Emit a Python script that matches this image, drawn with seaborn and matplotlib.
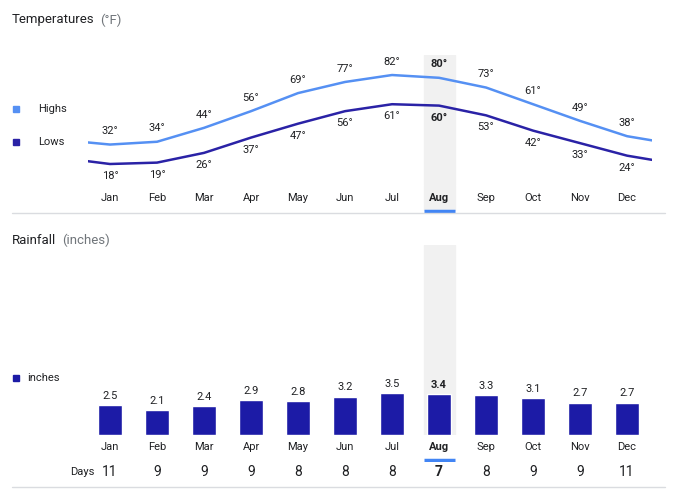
import matplotlib
matplotlib.use("Agg")
import matplotlib.pyplot as plt
import seaborn as sns
import pandas as pd

months = ["Jan", "Feb", "Mar", "Apr", "May", "Jun", "Jul", "Aug", "Sep", "Oct", "Nov", "Dec"]
highs = [32, 34, 44, 56, 69, 77, 82, 80, 73, 61, 49, 38]
lows = [18, 19, 26, 37, 47, 56, 61, 60, 53, 42, 33, 24]
rain = [2.5, 2.1, 2.4, 2.9, 2.8, 3.2, 3.5, 3.4, 3.3, 3.1, 2.7, 2.7]
days = [11, 9, 9, 9, 8, 8, 8, 7, 8, 9, 9, 11]
selected = 7

sns.set_theme(style="white")
plt.rcParams["font.family"] = ["Roboto", "DejaVu Sans"]

W, H = 675, 495
HIGH_C, LOW_C, BAR_C = "#5590f3", "#2a22a6", "#1c1ba6"
BAND_C = "#f1f1f1"
TXT = "#202124"
GREY = "#70757a"

fig = plt.figure(figsize=(W / 100, H / 100), dpi=100)


def fx(x):
    return x / W


def fy(y):
    return 1 - y / H


def axes_px(x0, y0, x1, y1):
    return fig.add_axes([fx(x0), fy(y1), (x1 - x0) / W, (y1 - y0) / H])


XLIM = (-0.468, 11.53)

# ---------- temperatures ----------
ax = axes_px(88, 55, 652, 185)
ax.set_xlim(*XLIM)
ax.set_ylim(2.9, 96.4)
ax.axvspan(selected - 0.33, selected + 0.33, color=BAND_C, zorder=0)
xs = list(range(12))
ext_x = [XLIM[0]] + xs + [XLIM[1]]
df_t = pd.DataFrame({
    "x": ext_x * 2,
    "t": [highs[0] + 1.5] + highs + [highs[-1] - 3] + [lows[0] + 2] + lows + [lows[-1] - 3],
    "s": ["Highs"] * 14 + ["Lows"] * 14,
})
sns.lineplot(data=df_t, x="x", y="t", hue="s", palette={"Highs": HIGH_C, "Lows": LOW_C},
             linewidth=1.8, legend=False, ax=ax, sort=False)
for i in xs:
    w = "bold" if i == selected else "normal"
    ax.annotate(f"{highs[i]}°", (i, highs[i]), xytext=(0, 6), textcoords="offset points",
                ha="center", va="bottom", fontsize=8, color=TXT, weight=w)
    ax.annotate(f"{lows[i]}°", (i, lows[i]), xytext=(0, -5), textcoords="offset points",
                ha="center", va="top", fontsize=8, color=TXT, weight=w)
ax.axis("off")

fig.text(fx(12), fy(20), "Temperatures", fontsize=9.5, color=TXT, va="center")
fig.text(fx(12 + 88), fy(20), "(°F)", fontsize=9.5, color=GREY, va="center")
fig.patches.append(plt.Rectangle((fx(13), fy(112)), 6 / W, 6 / H, color=HIGH_C, transform=fig.transFigure))
fig.text(fx(38), fy(109), "Highs", fontsize=8, color=TXT, va="center")
fig.patches.append(plt.Rectangle((fx(13), fy(145)), 6 / W, 6 / H, color=LOW_C, transform=fig.transFigure))
fig.text(fx(38), fy(142), "Lows", fontsize=8, color=TXT, va="center")

# month labels + band (top)
axm = axes_px(88, 185, 652, 213)
axm.set_xlim(*XLIM)
axm.set_ylim(0, 1)
axm.axvspan(selected - 0.33, selected + 0.33, ymin=0.1, color=BAND_C, zorder=0)
for i, m in enumerate(months):
    axm.text(i, 0.55, m, ha="center", va="center", fontsize=8, color=TXT,
             weight="bold" if i == selected else "normal")
axm.plot([selected - 0.33, selected + 0.33], [0.07, 0.07], color="#4285f4", lw=2.5, solid_capstyle="butt")
axm.axis("off")
fig.add_artist(plt.Line2D([fx(12), fx(665)], [fy(213), fy(213)], color="#dadce0", lw=1))

# ---------- rainfall ----------
axr = axes_px(88, 245, 652, 435)
df_r = pd.DataFrame({"month": months, "rain": rain})
axr.axvspan(selected - 0.33, selected + 0.33, color=BAND_C, zorder=0)
sns.barplot(data=df_r, x="month", y="rain", color=BAR_C, width=0.52, saturation=1, ax=axr, zorder=2)
axr.set_xlim(*XLIM)
axr.set_ylim(0, 190 / 12)
for i, v in enumerate(rain):
    axr.annotate(f"{v}", (i, v), xytext=(0, 3), textcoords="offset points", ha="center",
                 va="bottom", fontsize=8, color=TXT, weight="bold" if i == selected else "normal")
axr.axis("off")

fig.text(fx(12), fy(240), "Rainfall", fontsize=9.5, color=TXT, va="center")
fig.text(fx(12 + 50), fy(240), "(inches)", fontsize=9.5, color=GREY, va="center")
fig.patches.append(plt.Rectangle((fx(13), fy(381)), 6 / W, 6 / H, color=BAR_C, transform=fig.transFigure))
fig.text(fx(27), fy(378), "inches", fontsize=8, color=TXT, va="center")

axm2 = axes_px(88, 435, 652, 462)
axm2.set_xlim(*XLIM)
axm2.set_ylim(0, 1)
for i, m in enumerate(months):
    axm2.text(i, 0.55, m, ha="center", va="center", fontsize=8, color=TXT,
              weight="bold" if i == selected else "normal")
axm2.plot([selected - 0.33, selected + 0.33], [0.07, 0.07], color="#4285f4", lw=2.5, solid_capstyle="butt")
axm2.axis("off")

axd = axes_px(88, 462, 652, 485)
axd.set_xlim(*XLIM)
axd.set_ylim(0, 1)
for i, d in enumerate(days):
    axd.text(i, 0.55, str(d), ha="center", va="center", fontsize=10, color=TXT,
             weight="bold" if i == selected else "normal")
axd.axis("off")
fig.text(fx(70), fy(472), "Days", fontsize=8, color=TXT, va="center")
fig.add_artist(plt.Line2D([fx(12), fx(665)], [fy(487), fy(487)], color="#dadce0", lw=1))

fig.savefig("out.png", dpi=100)
